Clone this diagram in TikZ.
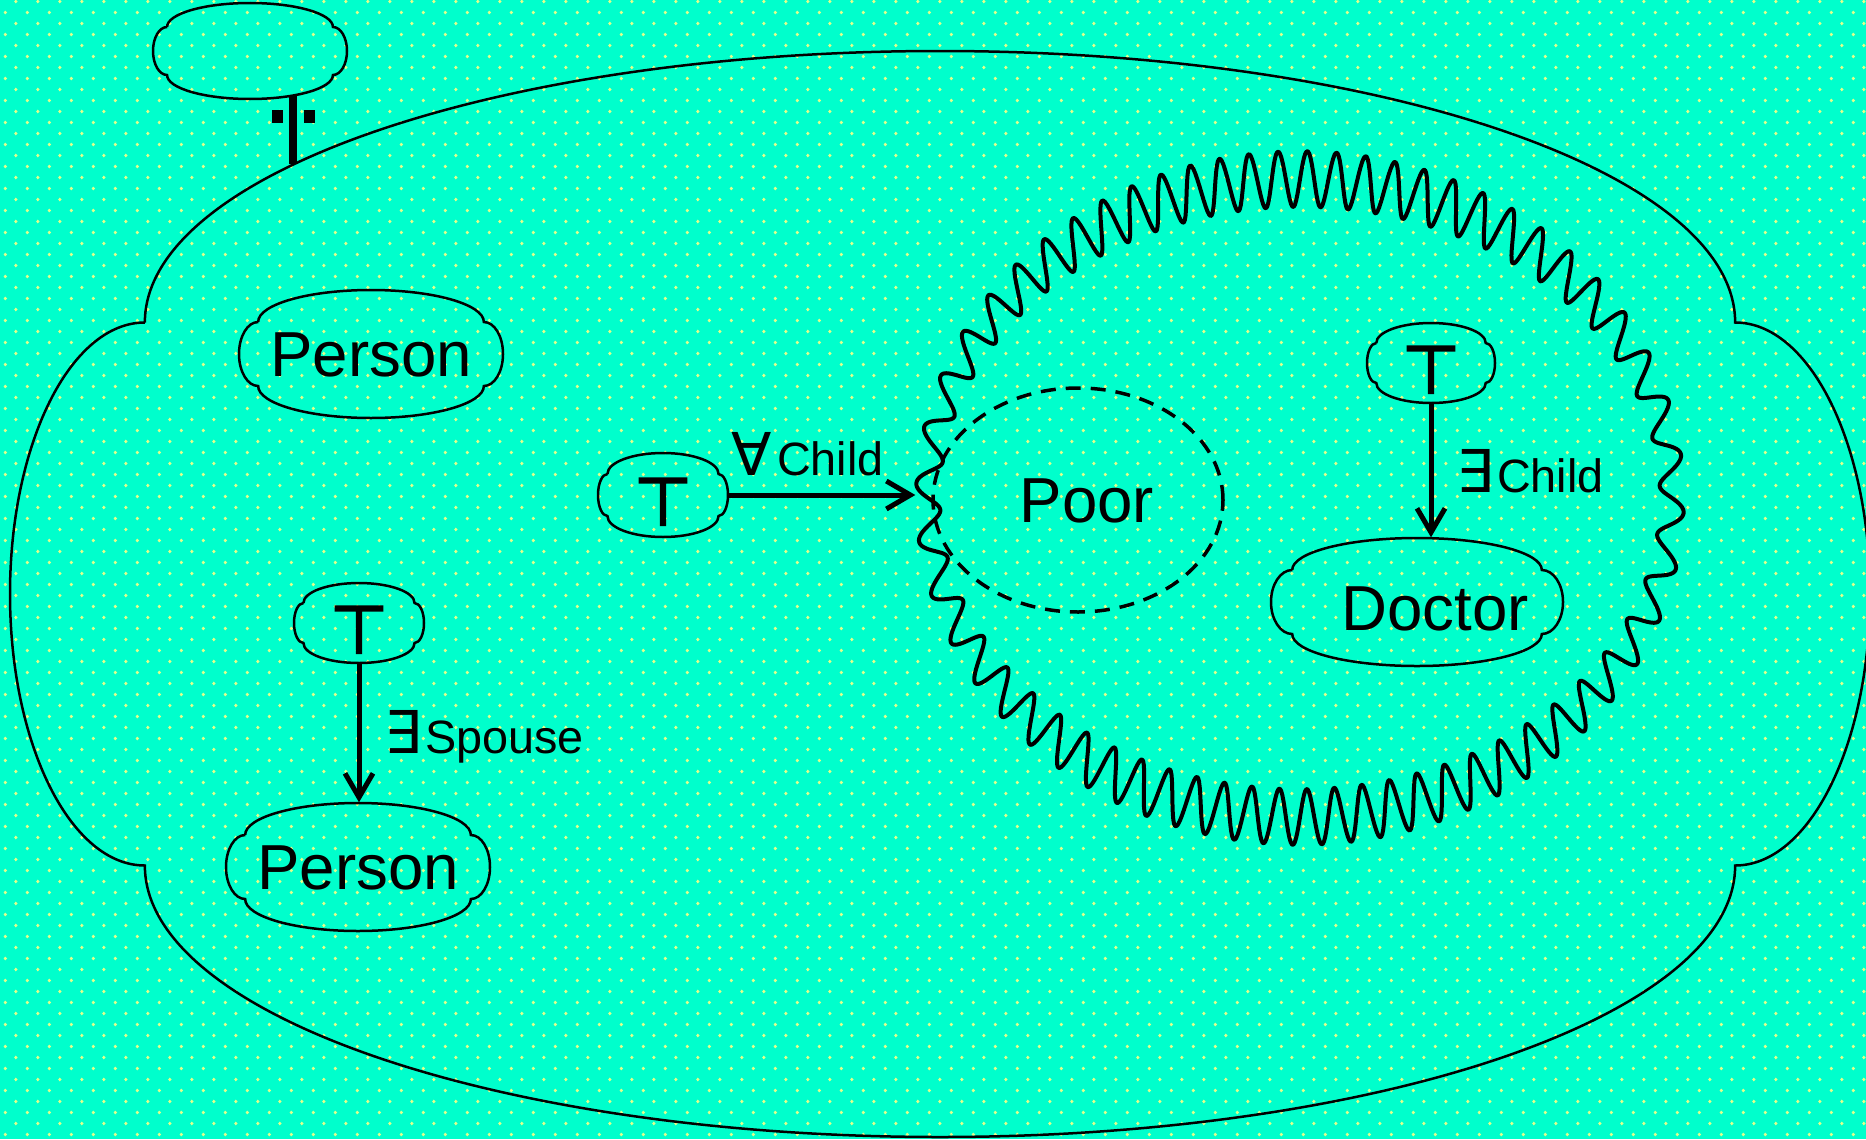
\documentclass[tikz,border=0pt]{standalone}
\usepackage{fontspec}
\setmainfont{Liberation Sans}
\newfontfamily\symfont{DejaVu Sans}
\newfontfamily\topfont{DejaVu Sans}[FakeBold=3]
\newcommand\quantfont{\symfont\fontsize{16.8}{20}\selectfont}
\usetikzlibrary{arrows.meta,shapes.geometric,patterns.meta}

\definecolor{mint}{RGB}{0,255,204}
\definecolor{dotyellow}{RGB}{225,255,140}

\tikzdeclarepattern{
  name=mintdots,
  type=uncolored,
  bottom left={(0mm,0mm)},
  top right={(2.15mm,2.2mm)},
  tile size={(2.15mm,2.2mm)},
  code={
    \fill (0.54mm,0.55mm) circle (0.18mm);
    \fill (1.615mm,1.65mm) circle (0.18mm);
  }
}

\tikzset{
  cloudbox/.style 2 args={rectangle, inner sep=0pt,
    minimum width=#1*0.2mm, minimum height=#2*0.2mm},
  rim/.style={line width=0.25mm},
  bigname/.style={font=\fontsize{18.1}{20}\selectfont, text height=13pt, text depth=0pt},
  topsym/.style={font=\topfont\fontsize{19}{22}\selectfont, text height=17.2pt, text depth=0pt},
  rolelbl/.style={font=\fontsize{13.3}{16}\selectfont, anchor=base west, inner sep=0pt},
  arr/.style={line width=0.5mm, -{Straight Barb[length=2.4mm,width=2.8mm]}},
  wave/.style={line width=0.4mm, line join=round},
}

\begin{document}
\begin{tikzpicture}[x=0.1mm,y=-0.1mm]
  \useasboundingbox (0,0) rectangle (1866,1139);
  \fill[mint] (0,0) rectangle (1866,1139);
  \fill[pattern=mintdots, pattern color=dotyellow] (0,0) rectangle (1866,1139);

  % concept boxes
  \node[cloudbox={97}{48}] (neg) at (250,51) {};
  \node[cloudbox={930}{543}] (ctx) at (940,594) {};
  \node[cloudbox={132}{64}, bigname] (pers1) at (371,354) {Person};
  \node[cloudbox={65}{42}, topsym] (top1) at (663,495) {⊤};
  \node[cloudbox={65}{40}, topsym] (top3) at (359,623) {⊤};
  \node[cloudbox={132}{64}, bigname] (pers2) at (358,867) {Person};
  \node[cloudbox={64}{40}, topsym] (top2) at (1431,363) {⊤};
  \node[cloudbox={146}{64}, bigname, text height=16pt] (doc) at (1417,602) {\hspace*{3.6mm}Doctor};

  \foreach \n/\W/\H in {neg/97/48, ctx/930/543, pers1/132/64, top1/65/42,
                        top3/65/40, pers2/132/64, top2/64/40, doc/146/64}
    \draw[rim] (\n.center) ++(-0.855*\W,-0.5*\H)
      arc[start angle=180, end angle=360, x radius=0.855*\W, y radius=0.5*\H]
      arc[start angle=-90, end angle=90, x radius=0.145*\W, y radius=0.5*\H]
      arc[start angle=0, end angle=180, x radius=0.855*\W, y radius=0.5*\H]
      arc[start angle=90, end angle=270, x radius=0.145*\W, y radius=0.5*\H];

  % wavy region and dashed class
  \node[ellipse, inner sep=0pt, minimum width=76.8mm, minimum height=67.6mm] (dom) at (1300,498) {};
  \draw[wave] plot[domain=0:360, samples=1801, variable=\t]
    ({1300 + (372 + 12*sin(60*mod(\t,6) - 645*sin(2*\t)))*cos(\t)},
     {498 + (319 + 28*sin(60*mod(\t,6) - 645*sin(2*\t)))*sin(\t)});
  \node[ellipse, draw, line width=0.35mm, dash pattern=on 1.5mm off 1mm, inner sep=0pt,
        minimum width=29mm, minimum height=22.4mm, bigname] (poor) at (1078,500) {\hspace*{1.8mm}Poor};

  % negation mark
  \coordinate (cutTop) at (293,96);
  \coordinate (cutBot) at (293,164);
  \draw[line width=0.75mm] (cutTop) -- (cutBot);
  \fill (272,110) rectangle (283,123);
  \fill (304,110) rectangle (315,123);

  % roles
  \draw[arr] (top1.east) -- (top1.east -| dom.west);
  \draw[arr] (top2.south) -- (top2.south |- doc.north);
  \draw[arr] (top3.south) -- (top3.south |- pers2.north);

  \node[rolelbl] (lblAll) at (731,475) {{\quantfont ∀}\hspace{0.5mm}Child};
  \node[rolelbl] (lblEx) at (1456,492) {{\quantfont ∃}\hspace{0.3mm}Child};
  \node[rolelbl] (lblSp) at (384,753) {{\quantfont ∃}\hspace{0.3mm}Spouse};
\end{tikzpicture}
\end{document}
